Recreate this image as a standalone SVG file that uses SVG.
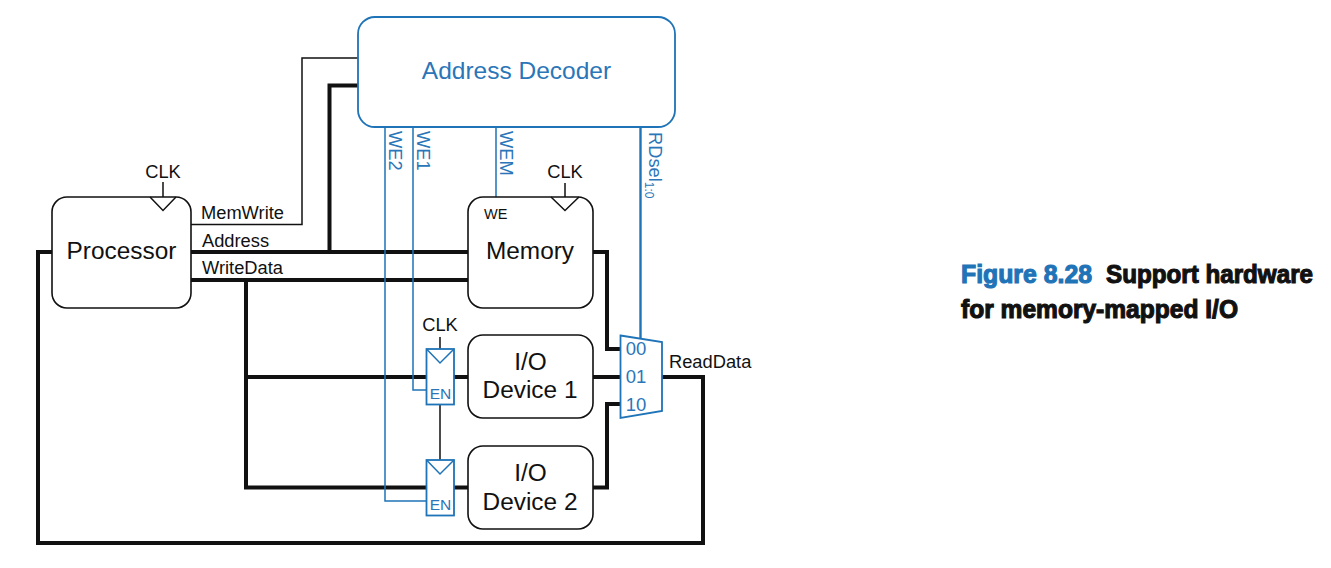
<svg xmlns="http://www.w3.org/2000/svg" width="1331" height="568" viewBox="0 0 1331 568">
<style>
text{font-family:"Liberation Sans",Arial,sans-serif;fill:#111}
.box{fill:#fff;stroke:#111;stroke-width:1.6}
.thin{fill:none;stroke:#111;stroke-width:1.5}
.thick{fill:none;stroke:#111;stroke-width:4}
.bl{fill:none;stroke:#1f73b7;stroke-width:1.5}
.blt{fill:none;stroke:#1f73b7;stroke-width:2.4}
.bf{fill:#fff;stroke:#1f73b7;stroke-width:1.8}
text.b{fill:#2a76b9}
.l{font-size:18.3px}
.n{font-size:24.4px}
.cap{font-size:25px;font-weight:bold;stroke-width:1.1}
</style>
<rect width="1331" height="568" fill="#fff"/>
<g id="connectors">
<path class="thin" d="M191 224.500H302V58H358"/>
<path class="thick" d="M191 252H468M329.500 252V85.500H358"/>
<path class="thick" d="M191 280H468M246 280V487.500H426M246 377H426M454 377H468M454 487.500H468"/>
<path class="thick" d="M52 252H38V543H703V377H662"/>
<path class="thick" d="M593 252H607V349H621"/>
<path class="thick" d="M593 377H621"/>
<path class="thick" d="M593 487.500H607V404H621"/>
<path class="thin" d="M163 182V197M565 183V197M440 337V349M440 405V460"/>
<path class="bl" d="M385 127V501H426M413 127V390H426M496 127V197"/>
<path class="blt" d="M640.500 127V339"/>
</g>
<g id="address-decoder">
<rect class="bf" x="358" y="17" width="317" height="110" rx="17"/>
<text class="b" x="516.500" y="79" text-anchor="middle" font-size="24.500">Address Decoder</text>
</g>
<g id="processor">
<rect class="box" x="52" y="197" width="139" height="111" rx="15"/>
<path class="thin" fill="#fff" d="M150 197L163 210.500L176 197"/>
<text class="n" x="121.500" y="259" text-anchor="middle">Processor</text>
<text class="l" x="163" y="178" text-anchor="middle">CLK</text>
</g>
<g id="memory">
<rect class="box" x="468" y="197" width="125" height="111" rx="15"/>
<path class="thin" d="M551 197L565 210.500L579 197"/>
<text x="484" y="219" font-size="14.500">WE</text>
<text class="n" x="530" y="259" text-anchor="middle">Memory</text>
<text class="l" x="565" y="178" text-anchor="middle">CLK</text>
</g>
<g id="io-device-1">
<rect class="box" x="468" y="335" width="125" height="83" rx="15"/>
<text class="n" x="530.500" y="370" text-anchor="middle">I/O</text>
<text class="n" x="530" y="398" text-anchor="middle">Device 1</text>
</g>
<g id="io-device-2">
<rect class="box" x="468" y="446" width="125" height="83" rx="15"/>
<text class="n" x="530.500" y="481" text-anchor="middle">I/O</text>
<text class="n" x="530" y="510" text-anchor="middle">Device 2</text>
</g>
<g id="ff-1">
<rect class="bf" x="426.500" y="349" width="27.500" height="55.500"/>
<path class="bl" d="M426.500 349L440 363L454 349"/>
<text class="b" x="440.500" y="399" text-anchor="middle" font-size="15.500">EN</text>
<text class="l" x="440" y="331" text-anchor="middle">CLK</text>
</g>
<g id="ff-2">
<rect class="bf" x="426.500" y="460" width="27.500" height="55.500"/>
<path class="bl" d="M426.500 460L440 474L454 460"/>
<text class="b" x="440.500" y="510" text-anchor="middle" font-size="15.500">EN</text>
</g>
<g id="mux">
<path class="bf" d="M620.500 335.500L662 342V411L620.500 418Z"/>
<text class="b" x="636" y="354.500" text-anchor="middle" font-size="18.500">00</text>
<text class="b" x="636" y="382.500" text-anchor="middle" font-size="18.500">01</text>
<text class="b" x="636" y="410.500" text-anchor="middle" font-size="18.500">10</text>
</g>
<g id="labels">
<text class="l" x="201" y="219">MemWrite</text>
<text class="l" x="202" y="247">Address</text>
<text class="l" x="202" y="274">WriteData</text>
<text class="l" x="669" y="368">ReadData</text>
<text class="b l" transform="translate(389 131) rotate(90)">WE2</text>
<text class="b l" transform="translate(417 131) rotate(90)">WE1</text>
<text class="b l" transform="translate(500 131) rotate(90)">WEM</text>
<text class="b l" transform="translate(649 132) rotate(90)">RDsel<tspan font-size="12" dy="4">1:0</tspan></text>
</g>
<g id="caption">
<text class="cap" x="961" y="283" style="fill:#1f73b7;stroke:#1f73b7" textLength="131" lengthAdjust="spacingAndGlyphs">Figure 8.28</text>
<text class="cap" x="1106" y="283" stroke="#111" textLength="207" lengthAdjust="spacingAndGlyphs">Support hardware</text>
<text class="cap" x="961" y="318" stroke="#111" textLength="277" lengthAdjust="spacingAndGlyphs">for memory-mapped I/O</text>
</g>
</svg>
